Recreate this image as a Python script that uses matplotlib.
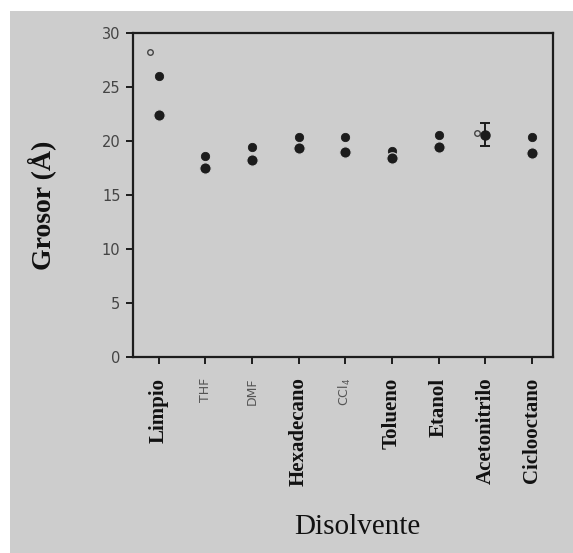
import matplotlib
matplotlib.use("Agg")
import matplotlib.pyplot as plt
from matplotlib.patches import Rectangle

# Solvents on the x axis
disolventes = ["Limpio", "THF", "DMF", "Hexadecano", "CCl$_4$", "Tolueno",
               "Etanol", "Acetonitrilo", "Ciclooctano"]
# Label styles: serif bold for most names, small sans for the abbreviations
etiqueta_sans = [False, True, True, False, True, False, False, False, False]

# Two thickness measurements per solvent (Å)
grosor_alto = [26.0, 18.6, 19.45, 20.4, 20.4, 19.1, 20.55, None, 20.4]
grosor_bajo = [22.4, 17.5, 18.25, 19.35, 19.0, 18.4, 19.45, None, 18.9]

# Acetonitrilo: mean with error bar
aceto_media = 20.6
aceto_err_inf = 1.1
aceto_err_sup = 1.1

# Small open marks
abiertos_x = [-0.18, 6.83]
abiertos_y = [28.2, 20.7]

yticks = [0, 5, 10, 15, 20, 25, 30]

BG = "#cdcdcd"
INK = "#1c1c1c"

fig = plt.figure(figsize=(5.73, 5.53), dpi=100, facecolor="white")
fig.patches.append(Rectangle((10 / 573, 0), 1, 1 - 11 / 553,
                             transform=fig.transFigure, facecolor=BG,
                             edgecolor="none", zorder=-10))

ax = fig.add_axes([133 / 573, 196 / 553, 420 / 573, 324 / 553])
ax.set_facecolor(BG)

xs = list(range(len(disolventes)))
for x, ya, yb in zip(xs, grosor_alto, grosor_bajo):
    if ya is None:
        continue
    ax.plot([x], [ya], "o", ms=6.0, color=INK, mec=INK, mew=0.6, zorder=3)
    ax.plot([x], [yb], "o", ms=8.2, color=INK, mec=BG, mew=0.9, zorder=4)

ax.errorbar([7], [aceto_media], yerr=[[aceto_err_inf], [aceto_err_sup]],
            fmt="o", ms=6.5, color=INK, ecolor=INK, elinewidth=1.4,
            capsize=3.5, capthick=1.4, zorder=4)
ax.plot(abiertos_x, abiertos_y, "o", ms=4, mfc="none", mec="#444444",
        mew=1.0, zorder=3)

ax.set_xlim(-0.55, 8.45)
ax.set_ylim(0, 30)
ax.set_yticks(yticks)
ax.set_yticklabels([str(v) for v in yticks], fontsize=10.5,
                   family="DejaVu Sans", color="#444444")
ax.set_xticks(xs)
ax.set_xticklabels([])

for s in ax.spines.values():
    s.set_linewidth(1.6)
    s.set_color(INK)
ax.tick_params(axis="y", direction="out", length=5, width=1.4, color=INK, pad=4)
ax.tick_params(axis="x", direction="out", length=5, width=1.4, color=INK)

for x, nombre, sans in zip(xs, disolventes, etiqueta_sans):
    if sans:
        ax.text(x, -1.9, nombre, rotation=90, ha="center", va="top",
                fontsize=9, family="DejaVu Sans", color="#555555",
                transform=ax.transData, clip_on=False)
    else:
        ax.text(x, -1.9, nombre, rotation=90, ha="center", va="top",
                fontsize=15, family="Liberation Serif", weight="bold",
                color="#111111", transform=ax.transData, clip_on=False)

fig.text(42 / 573, 1 - 205 / 553, "Grosor (Å)", rotation=90, ha="center",
         va="center", fontsize=20, family="Liberation Serif", weight="bold",
         color="#111111")
fig.text(357 / 573, 1 - 527 / 553, "Disolvente", ha="center", va="center",
         fontsize=21, family="Liberation Serif", color="#111111")

fig.savefig("out.png", dpi=100, facecolor="white")
